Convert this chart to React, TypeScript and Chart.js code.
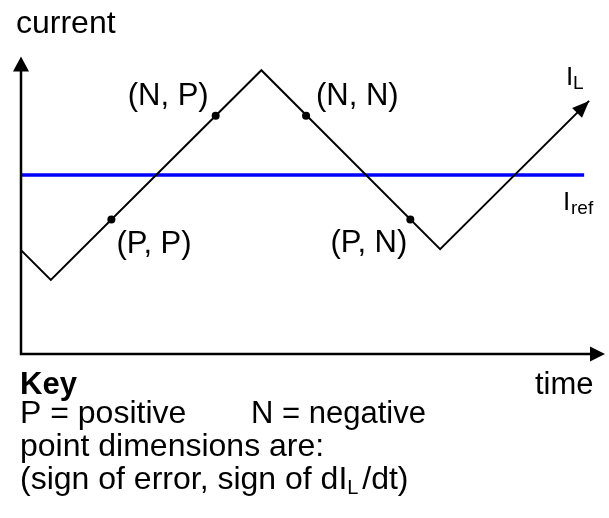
import React, { useEffect, useRef } from "react";
import { Chart, registerables } from "chart.js";

Chart.register(...registerables);

// Inductor current I_L (triangle wave): time, current
const ilTime = [0, 30, 242, 422, 572];
const ilCurrent = [105, 75, 287, 106, 256];
// Reference current
const refTime = [0, 567];
const refCurrent = [181, 181];
// Marked points and their labels
const ptTime = [91, 196, 287, 392];
const ptCurrent = [136, 241, 241, 136];
const ptLabels = ["(P, P)", "(N, P)", "(N, N)", "(P, N)"];
const axisMax = { time: 588, current: 301 };

const FONT = "'Liberation Sans', Arial, sans-serif";

function arrow(ctx: CanvasRenderingContext2D, tx: number, ty: number, dx: number, dy: number, len: number, hw: number) {
  const l = Math.hypot(dx, dy);
  const ux = dx / l, uy = dy / l;
  const bx = tx - ux * len, by = ty - uy * len;
  ctx.beginPath();
  ctx.moveTo(tx, ty);
  ctx.lineTo(bx - uy * hw, by + ux * hw);
  ctx.lineTo(bx + uy * hw, by - ux * hw);
  ctx.closePath();
  ctx.fill();
}

const decor = {
  id: "decor",
  afterDatasetsDraw(chart: any) {
    const ctx: CanvasRenderingContext2D = chart.ctx;
    const xs = chart.scales.x, ys = chart.scales.y;
    const x0 = xs.getPixelForValue(0), y0 = ys.getPixelForValue(0);
    const yTop = ys.getPixelForValue(axisMax.current);
    const xEnd = xs.getPixelForValue(axisMax.time);
    ctx.save();
    ctx.fillStyle = "#000";
    ctx.strokeStyle = "#000";
    ctx.lineWidth = 2.5;
    // axes
    ctx.beginPath();
    ctx.moveTo(x0, yTop + 10);
    ctx.lineTo(x0, y0);
    ctx.lineTo(xEnd - 10, y0);
    ctx.stroke();
    arrow(ctx, x0, yTop, 0, -1, 15, 8);
    arrow(ctx, xEnd, y0, 1, 0, 15, 7.5);
    // I_L arrowhead
    const n = ilTime.length;
    const tx = xs.getPixelForValue(ilTime[n - 1]), ty = ys.getPixelForValue(ilCurrent[n - 1]);
    const px = xs.getPixelForValue(ilTime[n - 2]), py = ys.getPixelForValue(ilCurrent[n - 2]);
    arrow(ctx, tx, ty, tx - px, ty - py, 17, 7);

    // point labels
    ctx.font = `31px ${FONT}`;
    ctx.textBaseline = "alphabetic";
    const offs = [
      { dx: 5, dy: 33, align: "left" },
      { dx: -7, dy: -11, align: "right" },
      { dx: 10, dy: -11, align: "left" },
      { dx: -3, dy: 32, align: "right" },
    ];
    ptLabels.forEach((lab, i) => {
      const x = xs.getPixelForValue(ptTime[i]);
      const y = ys.getPixelForValue(ptCurrent[i]);
      ctx.textAlign = offs[i].align as CanvasTextAlign;
      ctx.fillText(lab, x + offs[i].dx, y + offs[i].dy);
    });

    // I_L and I_ref labels
    ctx.textAlign = "left";
    ctx.font = `26px ${FONT}`;
    ctx.fillText("I", 566, 85);
    ctx.fillText("I", 563, 210);
    ctx.font = `19px ${FONT}`;
    ctx.fillText("L", 573, 89);
    ctx.fillText("ref", 571, 214);

    // axis titles
    ctx.font = `32px ${FONT}`;
    ctx.fillText("current", 16, 33);
    ctx.font = `31px ${FONT}`;
    ctx.fillText("time", 535, 394);

    // key
    ctx.font = `bold 31px ${FONT}`;
    ctx.fillText("Key", 20, 394);
    ctx.font = `32px ${FONT}`;
    ctx.fillText("P = positive", 20, 423);
    ctx.font = `31px ${FONT}`;
    ctx.fillText("N = negative", 251, 423);
    ctx.font = `32px ${FONT}`;
    ctx.fillText("point dimensions are:", 20, 456);
    const s1 = "(sign of error, sign of dI";
    ctx.fillText(s1, 20, 489);
    const w1 = ctx.measureText(s1).width;
    ctx.font = `20px ${FONT}`;
    ctx.fillText("L", 20 + w1, 494);
    const w2 = ctx.measureText("L").width;
    ctx.font = `32px ${FONT}`;
    ctx.fillText(" /dt)", 20 + w1 + w2 - 5, 489);
    ctx.restore();
  },
};

export default function App() {
  const ref = useRef<HTMLCanvasElement>(null);
  useEffect(() => {
    document.body.style.margin = "0";
    const chart = new Chart(ref.current!, {
      type: "scatter",
      data: {
        datasets: [
          {
            data: ilTime.map((t, i) => ({ x: t, y: ilCurrent[i] })),
            showLine: true,
            borderColor: "#000",
            borderWidth: 2,
            pointRadius: 0,
          },
          {
            data: refTime.map((t, i) => ({ x: t, y: refCurrent[i] })),
            showLine: true,
            borderColor: "#0000ff",
            borderWidth: 3.5,
            pointRadius: 0,
          },
          {
            data: ptTime.map((t, i) => ({ x: t, y: ptCurrent[i] })),
            showLine: false,
            pointRadius: 4,
            pointBackgroundColor: "#000",
            pointBorderColor: "#000",
            pointBorderWidth: 0,
          },
        ],
      },
      options: {
        animation: false,
        responsive: false,
        layout: { padding: { left: 21, right: 0, top: 0, bottom: 164 } },
        plugins: { legend: { display: false }, tooltip: { enabled: false } },
        scales: {
          x: { type: "linear", display: false, min: 0, max: 588 },
          y: { type: "linear", display: false, min: 0, max: 354 },
        },
      },
      plugins: [decor],
    });
    return () => chart.destroy();
  }, []);
  return (
    <div style={{ width: 609, height: 518 }}>
      <canvas ref={ref} width={609} height={518} />
    </div>
  );
}
